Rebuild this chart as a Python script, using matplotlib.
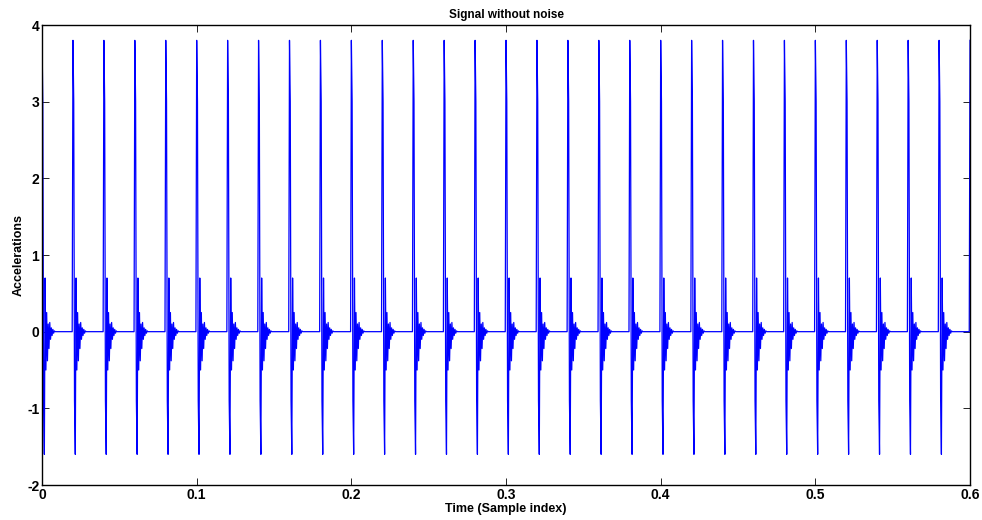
import numpy as np
import matplotlib.pyplot as plt

plt.rcParams['font.family'] = ['Liberation Sans', 'DejaVu Sans']
plt.rcParams['axes.unicode_minus'] = False

# sample step of the recording (s)
dt = 0.0005
t_end = 0.6

# times at which each impact starts (s)
impact_times = [0.00, 0.02, 0.04, 0.06, 0.08, 0.10, 0.12, 0.14, 0.16, 0.18,
                0.20, 0.22, 0.24, 0.26, 0.28, 0.30, 0.32, 0.34, 0.36, 0.38,
                0.40, 0.42, 0.44, 0.46, 0.48, 0.50, 0.52, 0.54, 0.56, 0.58,
                0.60]

# acceleration samples of one impact response, one value per sample step
impact_shape = [3.8, 3.0, -0.9, -1.6, 0.7, -0.5, 0.25, -0.38, 0.1, -0.22,
                0.12, -0.1, 0.05, -0.05, 0.03, -0.02, 0.01, 0.0]

n = int(round(t_end / dt)) + 1
t = np.arange(n) * dt
signal = np.zeros(n)
for ti in impact_times:
    i0 = int(round(ti / dt))
    for k, v in enumerate(impact_shape):
        if i0 + k < n:
            signal[i0 + k] = v

fig = plt.figure(figsize=(9.82, 5.2), dpi=100)
ax = fig.add_axes([0.0428, 0.0673, 0.945, 0.8846])
ax.plot(t, signal, color='#0000ff', linewidth=0.9)

ax.set_xlim(0, 0.6)
ax.set_ylim(-2, 4)
ax.set_xticks([0, 0.1, 0.2, 0.3, 0.4, 0.5, 0.6])
ax.set_xticklabels(['0', '0.1', '0.2', '0.3', '0.4', '0.5', '0.6'])
ax.set_yticks([-2, -1, 0, 1, 2, 3, 4])
ax.set_yticklabels(['-2', '-1', '0', '1', '2', '3', '4'])
ax.tick_params(direction='in', top=True, right=True, length=5, width=0.6,
               labelsize=10, pad=2)
for lab in ax.get_xticklabels() + ax.get_yticklabels():
    lab.set_fontweight('bold')
for sp in ax.spines.values():
    sp.set_linewidth(1.0)

ax.set_title('Signal without noise', fontsize=8.5, fontweight='bold', pad=5)
ax.set_xlabel('Time (Sample index)', fontsize=9, fontweight='bold', labelpad=1)
ax.set_ylabel('Accelerations', fontsize=9, fontweight='bold', labelpad=2)

fig.savefig('out.png', dpi=100)
